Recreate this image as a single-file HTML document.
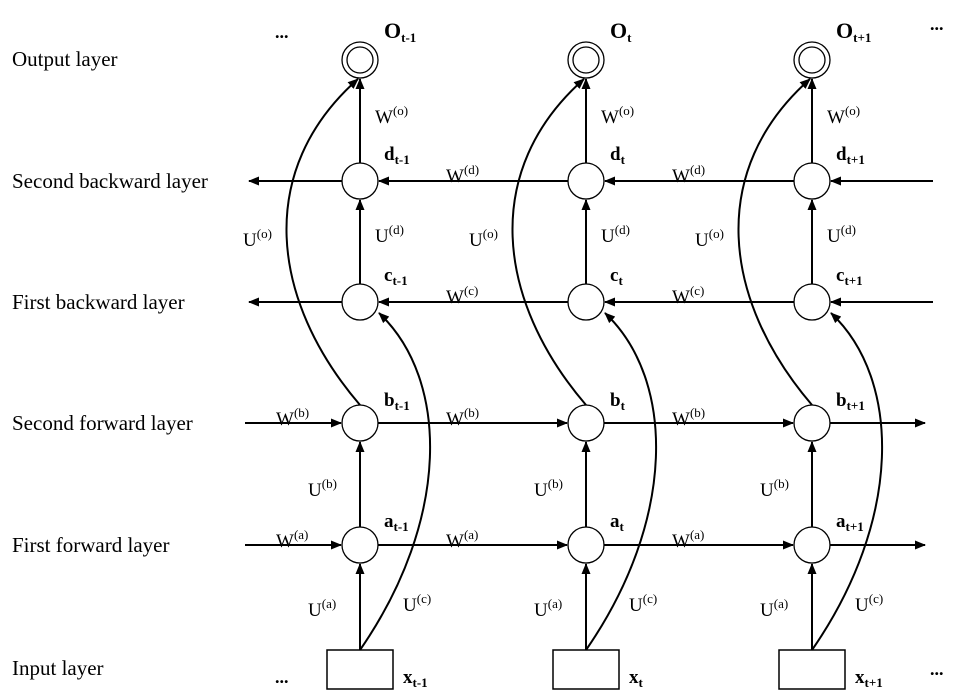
<!DOCTYPE html>
<html><head><meta charset="utf-8"><style>
html,body{margin:0;padding:0;background:#fff;}
svg{display:block;font-family:"Liberation Serif",serif;}
.l{font-size:21px;}
.w{font-size:19px;}
.s{font-size:13px;}
.n{font-size:19px;font-weight:bold;}
.ns{font-size:13px;font-weight:bold;}
</style></head><body>
<svg width="965" height="700" viewBox="0 0 965 700" xmlns="http://www.w3.org/2000/svg">
<defs>
<marker id="a" markerWidth="11" markerHeight="9" refX="10" refY="4.5" orient="auto" markerUnits="userSpaceOnUse">
<path d="M0,0 L11,4.5 L0,9 Z" fill="#000"/></marker>
<g id="col" fill="none" stroke="#000" stroke-width="2">
<circle cx="0" cy="60" r="18" stroke-width="1.3"/><circle cx="0" cy="60" r="13" stroke-width="1.3"/>
<circle cx="0" cy="181" r="18" stroke-width="1.3"/>
<circle cx="0" cy="302" r="18" stroke-width="1.3"/>
<circle cx="0" cy="423" r="18" stroke-width="1.3"/>
<circle cx="0" cy="545" r="18" stroke-width="1.3"/>
<rect x="-33" y="650" width="66" height="39" stroke-width="1.5"/>
<line x1="0" y1="163" x2="0" y2="79" marker-end="url(#a)"/>
<line x1="0" y1="284" x2="0" y2="200" marker-end="url(#a)"/>
<line x1="0" y1="527" x2="0" y2="442" marker-end="url(#a)"/>
<line x1="0" y1="650" x2="0" y2="564" marker-end="url(#a)"/>
<path d="M0,405 C-90,300 -105,170 -2,79" marker-end="url(#a)"/>
<path d="M0,650 C90,520 90,380 19,313" marker-end="url(#a)"/>
</g>
</defs>
<g fill="none" stroke="#000" stroke-width="2">
<line x1="342" y1="181" x2="249" y2="181" marker-end="url(#a)"/>
<line x1="568" y1="181" x2="379" y2="181" marker-end="url(#a)"/>
<line x1="794" y1="181" x2="605" y2="181" marker-end="url(#a)"/>
<line x1="933" y1="181" x2="831" y2="181" marker-end="url(#a)"/>
<line x1="342" y1="302" x2="249" y2="302" marker-end="url(#a)"/>
<line x1="568" y1="302" x2="379" y2="302" marker-end="url(#a)"/>
<line x1="794" y1="302" x2="605" y2="302" marker-end="url(#a)"/>
<line x1="933" y1="302" x2="831" y2="302" marker-end="url(#a)"/>
<line x1="245" y1="423" x2="341" y2="423" marker-end="url(#a)"/>
<line x1="378" y1="423" x2="567" y2="423" marker-end="url(#a)"/>
<line x1="604" y1="423" x2="793" y2="423" marker-end="url(#a)"/>
<line x1="830" y1="423" x2="925" y2="423" marker-end="url(#a)"/>
<line x1="245" y1="545" x2="341" y2="545" marker-end="url(#a)"/>
<line x1="378" y1="545" x2="567" y2="545" marker-end="url(#a)"/>
<line x1="604" y1="545" x2="793" y2="545" marker-end="url(#a)"/>
<line x1="830" y1="545" x2="925" y2="545" marker-end="url(#a)"/>
</g>
<use href="#col" x="360"/>
<use href="#col" x="586"/>
<use href="#col" x="812"/>
<g class="l">
<text x="12" y="66">Output layer</text>
<text x="12" y="188">Second backward layer</text>
<text x="12" y="309">First backward layer</text>
<text x="12" y="430">Second forward layer</text>
<text x="12" y="552">First forward layer</text>
<text x="12" y="675">Input layer</text>
<text x="275" y="38" font-weight="bold" font-size="18">...</text>
<text x="930" y="30" font-weight="bold" font-size="18">...</text>
<text x="275" y="683" font-weight="bold" font-size="18">...</text>
<text x="930" y="675" font-weight="bold" font-size="18">...</text>
</g>
<g>
<text x="384" y="38" class="n" style="font-size:22px">O<tspan class="ns" dy="4">t-1</tspan></text>
<text x="610" y="38" class="n" style="font-size:22px">O<tspan class="ns" dy="4">t</tspan></text>
<text x="836" y="38" class="n" style="font-size:22px">O<tspan class="ns" dy="4">t+1</tspan></text>
<text x="384" y="160" class="n">d<tspan class="ns" dy="4">t-1</tspan></text>
<text x="610" y="160" class="n">d<tspan class="ns" dy="4">t</tspan></text>
<text x="836" y="160" class="n">d<tspan class="ns" dy="4">t+1</tspan></text>
<text x="384" y="281" class="n">c<tspan class="ns" dy="4">t-1</tspan></text>
<text x="610" y="281" class="n">c<tspan class="ns" dy="4">t</tspan></text>
<text x="836" y="281" class="n">c<tspan class="ns" dy="4">t+1</tspan></text>
<text x="384" y="406" class="n">b<tspan class="ns" dy="4">t-1</tspan></text>
<text x="610" y="406" class="n">b<tspan class="ns" dy="4">t</tspan></text>
<text x="836" y="406" class="n">b<tspan class="ns" dy="4">t+1</tspan></text>
<text x="384" y="527" class="n">a<tspan class="ns" dy="4">t-1</tspan></text>
<text x="610" y="527" class="n">a<tspan class="ns" dy="4">t</tspan></text>
<text x="836" y="527" class="n">a<tspan class="ns" dy="4">t+1</tspan></text>
<text x="403" y="683" class="n">x<tspan class="ns" dy="4">t-1</tspan></text>
<text x="629" y="683" class="n">x<tspan class="ns" dy="4">t</tspan></text>
<text x="855" y="683" class="n">x<tspan class="ns" dy="4">t+1</tspan></text>
</g>
<g class="w">
<g>
<text x="375" y="123">W<tspan class="s" dy="-8">(o)</tspan></text>
<text x="375" y="242">U<tspan class="s" dy="-8">(d)</tspan></text>
<text x="243" y="246">U<tspan class="s" dy="-8">(o)</tspan></text>
<text x="446" y="182">W<tspan class="s" dy="-8">(d)</tspan></text>
<text x="446" y="303">W<tspan class="s" dy="-8">(c)</tspan></text>
<text x="276" y="425">W<tspan class="s" dy="-8">(b)</tspan></text>
<text x="446" y="425">W<tspan class="s" dy="-8">(b)</tspan></text>
<text x="308" y="496">U<tspan class="s" dy="-8">(b)</tspan></text>
<text x="276" y="547">W<tspan class="s" dy="-8">(a)</tspan></text>
<text x="446" y="547">W<tspan class="s" dy="-8">(a)</tspan></text>
<text x="308" y="616">U<tspan class="s" dy="-8">(a)</tspan></text>
<text x="403" y="611">U<tspan class="s" dy="-8">(c)</tspan></text>
</g>
<g transform="translate(226,0)">
<text x="375" y="123">W<tspan class="s" dy="-8">(o)</tspan></text>
<text x="375" y="242">U<tspan class="s" dy="-8">(d)</tspan></text>
<text x="243" y="246">U<tspan class="s" dy="-8">(o)</tspan></text>
<text x="446" y="182">W<tspan class="s" dy="-8">(d)</tspan></text>
<text x="446" y="303">W<tspan class="s" dy="-8">(c)</tspan></text>
<text x="446" y="425">W<tspan class="s" dy="-8">(b)</tspan></text>
<text x="308" y="496">U<tspan class="s" dy="-8">(b)</tspan></text>
<text x="446" y="547">W<tspan class="s" dy="-8">(a)</tspan></text>
<text x="308" y="616">U<tspan class="s" dy="-8">(a)</tspan></text>
<text x="403" y="611">U<tspan class="s" dy="-8">(c)</tspan></text>
</g>
<g transform="translate(452,0)">
<text x="375" y="123">W<tspan class="s" dy="-8">(o)</tspan></text>
<text x="375" y="242">U<tspan class="s" dy="-8">(d)</tspan></text>
<text x="243" y="246">U<tspan class="s" dy="-8">(o)</tspan></text>
<text x="308" y="496">U<tspan class="s" dy="-8">(b)</tspan></text>
<text x="308" y="616">U<tspan class="s" dy="-8">(a)</tspan></text>
<text x="403" y="611">U<tspan class="s" dy="-8">(c)</tspan></text>
</g>
</g>
</svg>
</body></html>
